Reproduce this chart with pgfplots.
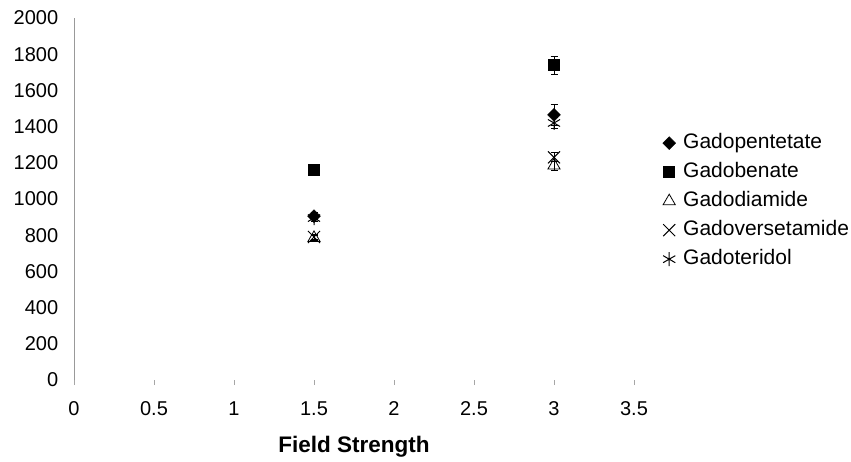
\documentclass[border=0pt]{standalone}
\usepackage{pgfplots}
\pgfplotsset{compat=1.18}
\usepackage{fontspec}
\setmainfont{Liberation Sans}

\begin{document}
\begin{tikzpicture}
\useasboundingbox (-74pt,-81pt) rectangle (777pt,380pt);
\begin{axis}[
    at={(0,0)}, anchor=south west,
    scale only axis, width=560pt, height=362pt,
    xmin=0, xmax=3.5, ymin=0, ymax=2000,
    xtick={0,0.5,...,3.5}, ytick={0,200,...,2000},
    axis lines*=left,
    x axis line style={draw=none},
    y axis line style={draw=gray!80, line width=0.6pt},
    tick align=outside, major tick length=5pt,
    xtick style={draw=gray!70, line width=0.6pt},
    ytick style={draw=none},
    /pgf/number format/assume math mode=true,
    /pgf/number format/1000 sep={},
    ticklabel style={font=\fontsize{20}{23}\selectfont},
    xticklabel style={yshift=-13.3pt},
    yticklabel style={xshift=-7.3pt},
    xlabel={Field Strength},
    xlabel style={font=\fontsize{22.5}{26}\selectfont\bfseries,
      at={(axis description cs:0.5,0)}, anchor=base, yshift=-72pt},
    legend style={draw=none, fill=none, at={(1.05,0.494)}, anchor=west,
      inner sep=0pt, row sep=6pt, font=\fontsize{21}{24}\selectfont,
      nodes={inner sep=2pt, text height=15pt, text depth=4pt}},
    legend cell align=left,
    legend image code/.code={%
      \path[draw=none, fill=none] (0pt,-1pt) rectangle (19pt,1pt);
      \draw[only marks] plot coordinates {(7pt,0pt)};},
    every axis plot/.append style={only marks, black, line width=0.9pt,
      error bars/error bar style={black, line width=0.9pt},
      error bars/error mark options={rotate=90, mark size=3.5pt, black, line width=0.9pt}},
]
% Gadopentetate
\addplot[mark=square*, mark size=4.5pt, mark options={rotate=45, fill=black, draw=black, line width=0.5pt},
  error bars/.cd, y dir=both, y explicit]
  coordinates {(1.5,905) +- (0,20) (3,1465) +- (0,60)};
\addlegendentry{Gadopentetate}
% Gadobenate
\addplot[mark=square*, mark size=5.5pt, mark options={fill=black, draw=black, line width=0.5pt},
  error bars/.cd, y dir=both, y explicit]
  coordinates {(1.5,1160) +- (0,25) (3,1740) +- (0,50)};
\addlegendentry{Gadobenate}
% Gadodiamide
\addplot[mark=triangle, mark size=7pt, mark options={fill=none, draw=black, line width=0.8pt},
  error bars/.cd, y dir=both, y explicit]
  coordinates {(1.5,785) +- (0,15) (3,1185) +- (0,25)};
\addlegendentry{Gadodiamide}
% Gadoversetamide
\addplot[mark=x, mark size=8.5pt, mark options={draw=black, line width=1pt},
  error bars/.cd, y dir=both, y explicit]
  coordinates {(1.5,790) +- (0,15) (3,1230) +- (0,25)};
\addlegendentry{Gadoversetamide}
% Gadoteridol
\addplot[mark=asterisk, mark size=7pt, mark options={draw=black, line width=1pt},
  error bars/.cd, y dir=both, y explicit]
  coordinates {(1.5,895) +- (0,20) (3,1420) +- (0,30)};
\addlegendentry{Gadoteridol}
\end{axis}
\end{tikzpicture}
\end{document}
